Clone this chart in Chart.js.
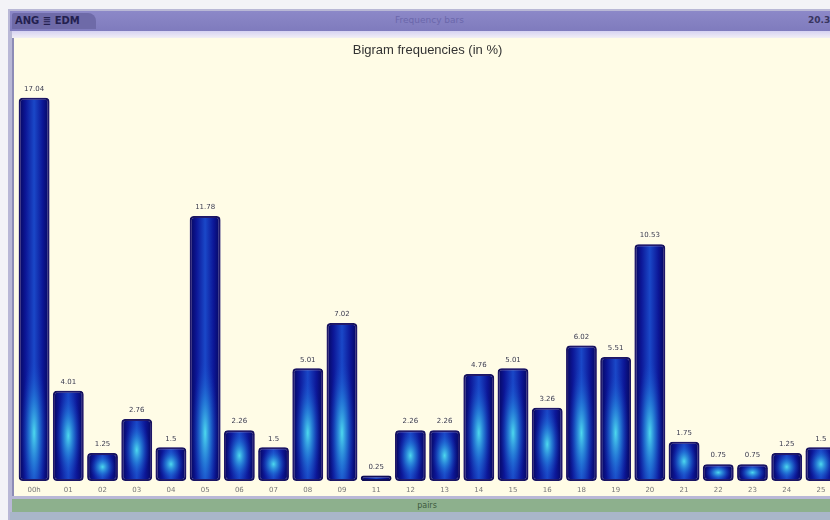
<!DOCTYPE html>
<html>
<head>
<meta charset="utf-8">
<script src="https://cdn.jsdelivr.net/npm/chart.js@4/dist/chart.umd.min.js"></script>
<style>
  html, body { margin: 0; padding: 0; }
  body { width: 830px; height: 520px; overflow: hidden; background: #f3f3f7; position: relative; font-family: 'DejaVu Sans', sans-serif; }
  #frame { position: absolute; left: 8px; top: 9px; width: 840px; height: 511px; background: #b9b8d6; }
  #header { position: absolute; left: 10px; top: 11px; width: 830px; height: 20px; background: linear-gradient(#8c88c8, #7f7bbd); }
  #tab { position: absolute; left: 12px; top: 13px; height: 16px; width: 84px; background: #6e6aa8; border-radius: 2px 8px 0 0; color: #23204f; font-size: 10px; font-weight: bold; line-height: 16px; text-indent: 3px; }
  #wintitle { position: absolute; left: 395px; top: 15px; color: #6b67ab; font-size: 9px; }
  #winnum { position: absolute; left: 808px; top: 15px; color: #38355f; font-size: 9px; font-weight: bold; }
  #strip { position: absolute; left: 12px; top: 31px; width: 830px; height: 8px; background: linear-gradient(#d6d2f2, #f6f3f5); }
  #panel { position: absolute; left: 12px; top: 38px; width: 830px; height: 458px; background: #fffce6; border-left: 2px solid #8d8cb6; }
  #footer { position: absolute; left: 12px; top: 499px; width: 830px; height: 13px; background: #8db08d; color: #3d5a3d; font-size: 8px; line-height: 13px; text-align: center; }
  #bottom { position: absolute; left: 10px; top: 512px; width: 830px; height: 8px; background: #a9b6c9; }
  #wrap { position: absolute; left: 14px; top: 38px; width: 830px; height: 458px; }
</style>
</head>
<body>
<div id="frame"></div>
<div id="header"></div>
<div id="tab">ANG ≣ EDM</div>
<div id="wintitle">Frequency bars</div>
<div id="winnum">20.3</div>
<div id="strip"></div>
<div id="panel"></div>
<div id="footer">pairs</div>
<div id="bottom"></div>
<div id="wrap"><canvas id="myChart"></canvas></div>

<script>
'use strict';

// GLOBALS
let chartTitle = 'Bigram frequencies (in %)';
let pairLabels = ['00h', '01', '02', '03', '04', '05', '06', '07', '08', '09', '11', '12',
  '13', '14', '15', '16', '18', '19', '20', '21', '22', '23', '24', '25'];
let pairFreqs = [17.04, 4.01, 1.25, 2.76, 1.5, 11.78, 2.26, 1.5, 5.01, 7.02, 0.25, 2.26,
  2.26, 4.76, 5.01, 3.26, 6.02, 5.51, 10.53, 1.75, 0.75, 0.75, 1.25, 1.5];
let yMax = 18.6;


// bar body: dark navy edges, brighter blue in the middle
function barFill(context) {
  let chart = context.chart;
  let xScale = chart.scales.x;
  if (!chart.chartArea || !xScale) {
    return '#1530b0';
  }
  let cx = xScale.getPixelForValue(context.dataIndex);
  let half = (xScale.width / pairLabels.length) * 0.45;
  let grad = chart.ctx.createLinearGradient(cx - half, 0, cx + half, 0);
  grad.addColorStop(0, '#05055a');
  grad.addColorStop(0.22, '#0c1696');
  grad.addColorStop(0.5, '#1a48c8');
  grad.addColorStop(0.78, '#0c1696');
  grad.addColorStop(1, '#05055a');
  return grad;
}


// purple halo behind the bars, cyan glow inside them, value labels on top
const barDeco = {
  id: 'barDeco',
  beforeDatasetDraw(chart) {
    let ctx = chart.ctx;
    ctx.save();
    ctx.shadowColor = 'rgba(120, 90, 210, 0.55)';
    ctx.shadowBlur = 7;
  },
  afterDatasetDraw(chart) {
    chart.ctx.restore();
  },
  afterDatasetsDraw(chart) {
    let ctx = chart.ctx;
    let meta = chart.getDatasetMeta(0);
    meta.data.forEach(function (bar, i) {
      let w = bar.width;
      let top = bar.y;
      let bottom = bar.base;
      let h = bottom - top;
      if (h < 8) {
        return;
      }
      let ry = Math.min(h / 2, 75);
      let cy = bottom - Math.min(h / 2, 48);
      ctx.save();
      ctx.beginPath();
      ctx.rect(bar.x - w / 2 + 2, top + 3, w - 4, h - 5);
      ctx.clip();
      ctx.translate(bar.x, cy);
      ctx.scale(0.85, ry / (w / 2));
      let glow = ctx.createRadialGradient(0, 0, 0, 0, 0, w / 2);
      glow.addColorStop(0, 'rgba(80, 225, 240, 0.95)');
      glow.addColorStop(0.45, 'rgba(40, 145, 225, 0.6)');
      glow.addColorStop(1, 'rgba(20, 60, 200, 0)');
      ctx.fillStyle = glow;
      ctx.fillRect(-w / 2, -w / 2, w, w);
      ctx.restore();
    });

    ctx.save();
    ctx.font = '7px "DejaVu Sans"';
    ctx.textAlign = 'center';
    ctx.textBaseline = 'bottom';
    meta.data.forEach(function (bar, i) {
      ctx.shadowColor = 'rgba(255, 255, 255, 1)';
      ctx.shadowBlur = 3;
      ctx.fillStyle = '#3a3a4a';
      ctx.fillText(String(pairFreqs[i]), bar.x, bar.y - 5);
    });
    ctx.restore();
  }
};


// CHART
const data = {
  labels: pairLabels,
  datasets: [{
    label: 'Frequency',
    data: pairFreqs,
    backgroundColor: barFill,
    borderColor: '#08084e',
    borderWidth: 2,
    borderRadius: 4,
    borderSkipped: false,
    barPercentage: 0.9,
    categoryPercentage: 1.0
  }]
};

const config = {
  type: 'bar',
  data: data,
  plugins: [barDeco],
  options: {
    responsive: true,
    maintainAspectRatio: false,
    animation: false,
    layout: {
      padding: { left: 3, right: 6, top: 0, bottom: 3 }
    },
    plugins: {
      legend: { display: false },
      tooltip: { enabled: false },
      title: {
        display: true,
        text: chartTitle,
        color: '#333333',
        font: { family: 'Liberation Sans', size: 13, weight: 'normal' },
        padding: { top: 5, bottom: 4 }
      }
    },
    scales: {
      x: {
        grid: { display: false, drawTicks: false, tickLength: 0 },
        border: { display: false },
        ticks: {
          color: '#777777',
          font: { family: 'DejaVu Sans', size: 7 },
          padding: 5,
          maxRotation: 0,
          autoSkip: false
        },
        afterFit: function (scale) {
          scale.height = 12;
        }
      },
      y: {
        display: false,
        min: 0,
        max: yMax
      }
    }
  }
};

let canvasChart = document.getElementById('myChart');
const myChart = new Chart(canvasChart, config);
</script>
</body>
</html>
